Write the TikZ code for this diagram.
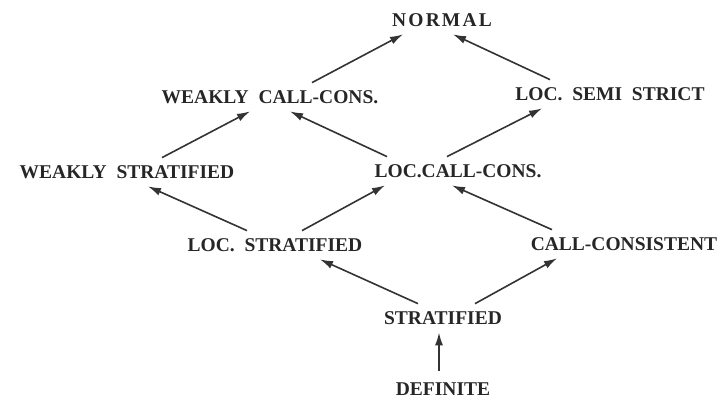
\documentclass[tikz,border=0pt]{standalone}
\usepackage{fontspec}
\setmainfont{Liberation Serif}
\usetikzlibrary{arrows.meta}

\begin{document}
\begin{tikzpicture}[x=1pt, y=-1pt, line width=1.6pt,
  classe/.style={font=\fontsize{19.5}{20}\selectfont\bfseries, text=black!85,
    inner xsep=0pt, inner ysep=7pt},
  freccia/.style={draw=black!80, -{Latex[length=13pt,width=8pt]}}]
\useasboundingbox (0,0) rectangle (725,402);

% Classi di programmi
\node[classe] (normal) at (442,20) {\addfontfeature{LetterSpace=11}NORMAL};
\node[classe] (wcc) at (270,97) {WEAKLY\ \ CALL-CONS.};
\node[classe] (lss) at (610,94) {LOC.\ \ SEMI\ \ STRICT};
\node[classe] (ws) at (127,172) {WEAKLY\ \ STRATIFIED};
\node[classe] (lcc) at (458,171) {LOC.CALL-CONS.};
\node[classe] (ls) at (275,245) {LOC.\ \ STRATIFIED};
\node[classe] (cc) at (624,244) {CALL-CONSISTENT};
\node[classe] (st) at (443,318) {STRATIFIED};
\node[classe] (def) at (443,389) {DEFINITE};

% Livello superiore
\draw[freccia] ([xshift=42pt]wcc.north) -- ([xshift=-39pt]normal.south);
\draw[freccia] ([xshift=-60pt]lss.north) -- ([xshift=11pt]normal.south);

% Livello intermedio
\draw[freccia] ([xshift=35pt]ws.north) -- ([xshift=-20pt]wcc.south);
\draw[freccia] ([xshift=-71pt]lcc.north) -- ([xshift=20pt]wcc.south);
\draw[freccia] ([xshift=-11pt]lcc.north) -- ([xshift=-68pt]lss.south);
\draw[freccia] ([xshift=-28pt]ls.north) -- ([xshift=21pt]ws.south);
\draw[freccia] ([xshift=27pt]ls.north) -- ([xshift=-73pt]lcc.south);
\draw[freccia] ([xshift=-72pt]cc.north) -- ([xshift=-6pt]lcc.south);

% Livello inferiore
\draw[freccia] ([xshift=-25pt]st.north) -- ([xshift=45pt]ls.south);
\draw[freccia] ([xshift=32pt]st.north) -- ([xshift=-67pt]cc.south);
\draw[freccia] ([xshift=-4pt,yshift=4pt]def.north) -- ([xshift=-4pt]st.south);
\end{tikzpicture}
\end{document}
